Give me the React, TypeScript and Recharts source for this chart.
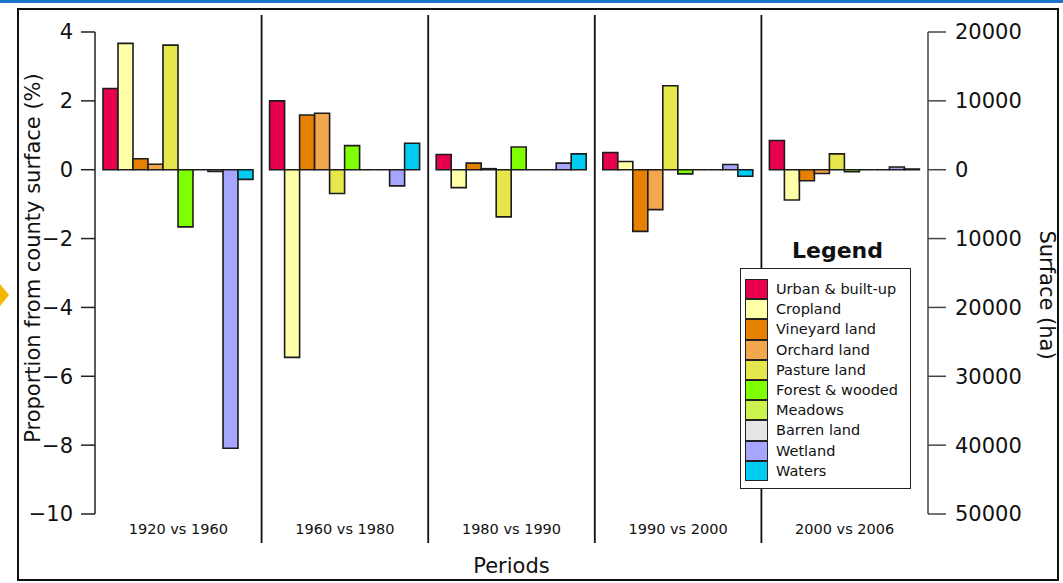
import React from "react";
import { Bar, BarChart, Label, Legend, XAxis, YAxis } from "recharts";

// periods compared (x categories)
const periods = ["1920 vs 1960", "1960 vs 1980", "1980 vs 1990", "1990 vs 2000", "2000 vs 2006"];

// change in proportion of county surface (%), one value per period
const urban = [2.36, 2.0, 0.44, 0.5, 0.85];
const cropland = [3.67, -5.45, -0.52, 0.24, -0.88];
const vineyard = [0.32, 1.59, 0.19, -1.79, -0.32];
const orchard = [0.16, 1.64, 0.03, -1.16, -0.11];
const pasture = [3.62, -0.69, -1.37, 2.44, 0.46];
const forest = [-1.66, 0.7, 0.66, -0.12, -0.06];
const meadows = [0, 0, 0, 0, 0];
const barren = [-0.05, 0, 0, 0, 0];
const wetland = [-8.09, -0.47, 0.19, 0.15, 0.08];
const waters = [-0.28, 0.77, 0.46, -0.19, 0.02];

const pctTicks = [-10, -8, -6, -4, -2, 0, 2, 4];
const haTicks = [-50000, -40000, -30000, -20000, -10000, 0, 10000, 20000];

const SERIES = [
  { key: "urban", label: "Urban & built-up", color: "#e6004d", values: urban },
  { key: "cropland", label: "Cropland", color: "#ffffa8", values: cropland },
  { key: "vineyard", label: "Vineyard land", color: "#e68000", values: vineyard },
  { key: "orchard", label: "Orchard land", color: "#f2a64d", values: orchard },
  { key: "pasture", label: "Pasture land", color: "#e6e64d", values: pasture },
  { key: "forest", label: "Forest & wooded", color: "#80ff00", values: forest },
  { key: "meadows", label: "Meadows", color: "#ccf24d", values: meadows },
  { key: "barren", label: "Barren land", color: "#e6e6e6", values: barren },
  { key: "wetland", label: "Wetland", color: "#a6a6ff", values: wetland },
  { key: "waters", label: "Waters", color: "#00ccf2", values: waters },
];

const data = periods.map((p, i) => {
  const row: Record<string, string | number> = { period: p };
  SERIES.forEach((s) => (row[s.key] = s.values[i]));
  return row;
});

const W = 1063;
const H = 583;
const FONT = "'DejaVu Sans', Verdana, sans-serif";
const INK = "#111";
const PLOT_W = 833;

// bar with outline; zero-height bars still draw their outline along the baseline
const OutlinedBar = (p: any) => {
  const { x, y, width, height, fill } = p;
  if (x == null || y == null) return null;
  const top = height < 0 ? y + height : y;
  const h = Math.abs(height || 0);
  return <path d={`M${x},${top}h${width}v${h}h${-width}Z`} fill={fill} stroke="#1c1c1c" strokeWidth={1.6} />;
};

// period label plus the divider line on the left edge of each band
const PeriodTick = (props: any) => {
  const { x, y, payload, index } = props;
  const half = payload?.offset || PLOT_W / periods.length / 2;
  return (
    <g>
      {index > 0 && <line x1={x - half} x2={x - half} y1={15} y2={543} stroke={INK} strokeWidth={1.8} />}
      <text x={x} y={y + 12} textAnchor="middle" fontSize={14.5} fill={INK} fontFamily={FONT}>
        {payload.value}
      </text>
    </g>
  );
};

const LegendBox = (props: any) => {
  const items = [...(props.payload || [])].sort(
    (a: any, b: any) =>
      SERIES.findIndex((s) => s.label === a.value) - SERIES.findIndex((s) => s.label === b.value)
  );
  return (
    <div style={{ fontFamily: FONT, color: INK }}>
      <div style={{ fontSize: 22, fontWeight: "bold", height: 33, lineHeight: "32px", paddingLeft: 24, textAlign: "center" }}>
        Legend
      </div>
      <div style={{ background: "#fff", border: "1.5px solid #222", height: 221, boxSizing: "border-box", paddingTop: 10, paddingLeft: 4 }}>
        {items.map((it: any) => (
          <div key={it.value} style={{ display: "flex", alignItems: "center", height: 20.2 }}>
            <div style={{ width: 23, height: 20.2, background: it.color, border: "1.5px solid #222", boxSizing: "border-box" }} />
            <span style={{ fontSize: 14.5, marginLeft: 8, whiteSpace: "nowrap" }}>{it.value}</span>
          </div>
        ))}
      </div>
    </div>
  );
};

export default function App() {
  return (
    <div style={{ position: "fixed", left: 0, top: 0, width: W, height: H, background: "#fff", overflow: "hidden", fontFamily: FONT }}>
      <div style={{ position: "absolute", left: 0, top: 0, width: W, height: 3, background: "#1c74cc" }} />
      <div style={{ position: "absolute", left: 17, top: 8, width: 1042, height: 573, border: "2.5px solid #111", boxSizing: "border-box" }} />
      <svg style={{ position: "absolute", left: 0, top: 284 }} width={9} height={22}>
        <polygon points="0,0 9,11 0,22" fill="#f5b800" />
      </svg>
      <div style={{ position: "absolute", left: 0, top: 0 }}>
        <BarChart
          width={W}
          height={H}
          data={data}
          margin={{ top: 32, right: 55, bottom: 39, left: 35 }}
          barSize={15}
          barGap={0}
        >
          <XAxis
            dataKey="period"
            axisLine={false}
            tickLine={false}
            height={30}
            interval={0}
            tick={<PeriodTick />}
          >
            <Label
              content={(p: any) => (
                <text x={p.viewBox.x + p.viewBox.width / 2} y={573} textAnchor="middle" fontSize={21} fill={INK} fontFamily={FONT}>
                  Periods
                </text>
              )}
            />
          </XAxis>
          <YAxis
            yAxisId="pct"
            orientation="left"
            width={60}
            type="number"
            domain={[-10, 4]}
            ticks={pctTicks}
            interval={0}
            tickSize={14}
            tickMargin={8}
            tickFormatter={(v: number) => (v < 0 ? `\u2212${Math.abs(v)}` : `${v}`)}
            tick={{ fontSize: 21, fill: INK, fontFamily: FONT }}
            axisLine={{ stroke: "#222", strokeWidth: 1.5 }}
            tickLine={{ stroke: "#222", strokeWidth: 1.5 }}
          >
            <Label
              content={() => (
                <text transform="translate(40,258) rotate(-90)" textAnchor="middle" fontSize={21} fill={INK} fontFamily={FONT}>
                  Proportion from county surface (%)
                </text>
              )}
            />
          </YAxis>
          <YAxis
            yAxisId="ha"
            orientation="right"
            width={80}
            type="number"
            domain={[-50000, 20000]}
            ticks={haTicks}
            interval={0}
            allowDataOverflow
            tickSize={18}
            tickMargin={9}
            tickFormatter={(v: number) => `${Math.abs(v)}`}
            tick={{ fontSize: 21, fill: INK, fontFamily: FONT }}
            axisLine={{ stroke: "#444", strokeWidth: 1.5 }}
            tickLine={{ stroke: "#444", strokeWidth: 1.5 }}
          >
            <Label
              content={() => (
                <text transform="translate(1040,295) rotate(90)" textAnchor="middle" fontSize={21} fill={INK} fontFamily={FONT}>
                  Surface (ha)
                </text>
              )}
            />
          </YAxis>
          <Legend
            layout="vertical"
            align="center"
            verticalAlign="middle"
            content={<LegendBox />}
            wrapperStyle={{ left: 740, top: 235, width: 171 }}
          />
          {SERIES.map((s) => (
            <Bar
              key={s.key}
              yAxisId="pct"
              dataKey={s.key}
              name={s.label}
              fill={s.color}
              shape={<OutlinedBar />}
              isAnimationActive={false}
            />
          ))}
        </BarChart>
      </div>
    </div>
  );
}
